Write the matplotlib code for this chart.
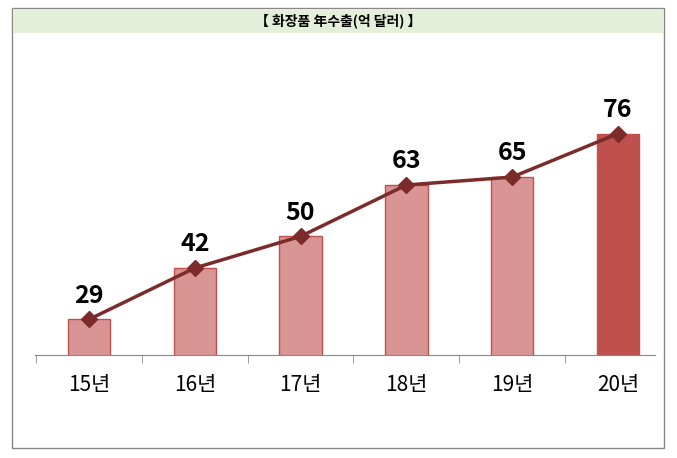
import matplotlib
matplotlib.use("Agg")
import matplotlib.pyplot as plt
from matplotlib.patches import Rectangle

plt.rcParams['font.family'] = ['Noto Sans CJK KR', 'DejaVu Sans']

categories = ['15년', '16년', '17년', '18년', '19년', '20년']
values = [29, 42, 50, 63, 65, 76]
title = '【 화장품 年수출(억 달러) 】'

fig = plt.figure(figsize=(6.77, 4.58), dpi=100)
fig.patches.append(Rectangle((12/677, 1-448/458), 652/677, 440/458, transform=fig.transFigure,
                             fill=False, edgecolor='#888888', lw=1))
fig.patches.append(Rectangle((13/677, 1-33/458), 650/677, 24/458, transform=fig.transFigure,
                             facecolor='#E3EFD9', edgecolor='none'))
fig.text(0.5, 1-21/458, title, ha='center', va='center', fontsize=10, fontweight='bold')

ax = fig.add_axes([35/677, 1-355/458, 620/677, 257/458])
x = list(range(len(categories)))
colors = ['#D99594'] * (len(values) - 1) + ['#C0504D']
ax.bar(x, values, width=0.4, color=colors, edgecolor='#C0504D', lw=1)
ax.plot(x, values, color='#7B2C2A', lw=2.5, marker='D', ms=8)
for xi, v in zip(x, values):
    ax.text(xi, v + 3, str(v), ha='center', va='bottom', fontsize=18, fontweight='bold')
ax.set_xlim(-0.51, 5.35)
ax.set_ylim(20, 85)
ax.set_yticks([])
for s in ['left', 'right', 'top']:
    ax.spines[s].set_visible(False)
ax.spines['bottom'].set_color('#888888')
ax.set_xticks(x)
ax.set_xticklabels(categories, fontsize=15)
ax.tick_params(axis='x', length=0, pad=14)
ax.set_xticks([i - 0.5 for i in range(len(categories))], minor=True)
ax.tick_params(axis='x', which='minor', length=6, color='#888888')
fig.savefig('out.png', dpi=100)
